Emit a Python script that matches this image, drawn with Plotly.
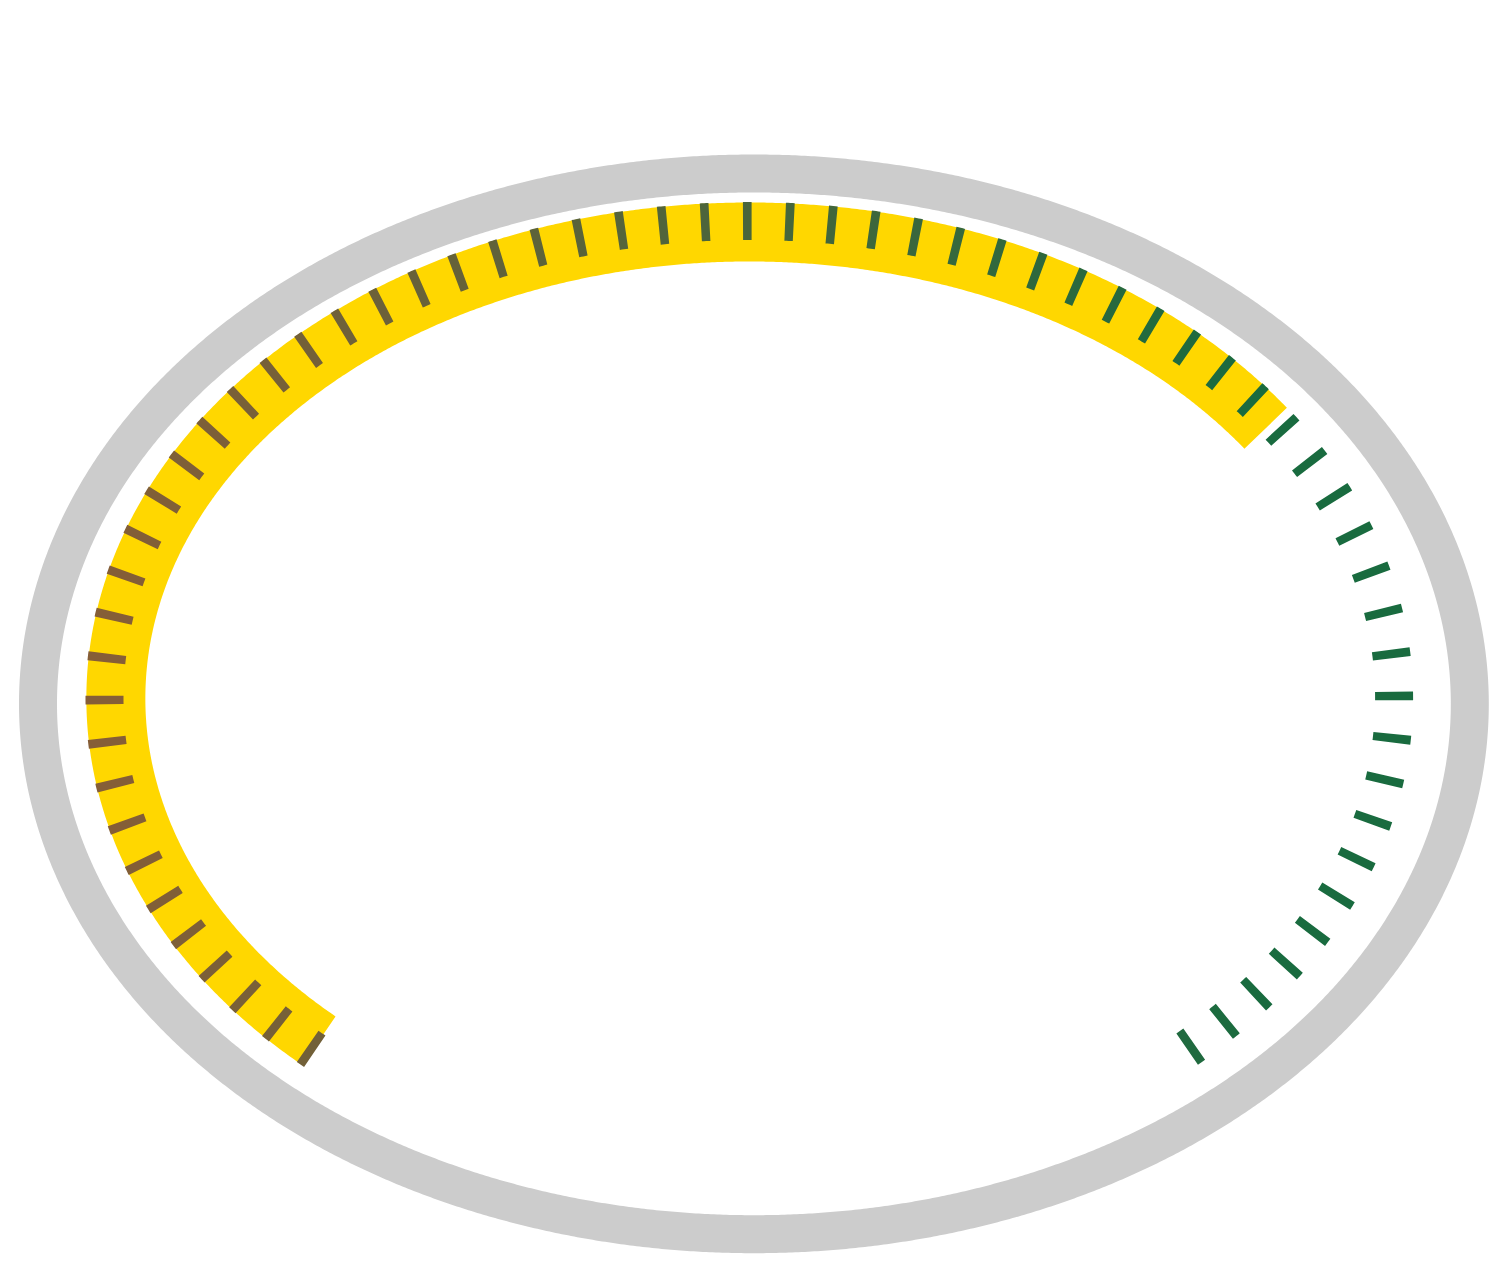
import numpy as np
import plotly.graph_objects as go

# ---------------- data ----------------
gauge_min = 0
gauge_max = 100
gauge_value = 70
tick_count = 63

# ---------------- style / geometry (page pixel space) ----------------
W, H = 1501, 1266
PAGE_OFF = 8                      # browser body margin
CX, CY = 749.3, 698.5             # gauge centre
START_DEG, END_DEG = 227.2, -46.8  # sweep of the gauge (parametric angle)

TRACK_C = (753.9, 703.85)
TRACK_R = (715.9, 530.35)
TRACK_W = 38
TRACK_COLOR = "#cccccc"

BAR_R = (633.45, 466.5)
BAR_W = 59
BAR_COLOR = "#FFD700"

TICK_R = (644.8, 477.5)
TICK_LEN = 38
TICK_THICK = 8.6
TICK_LEFT_RGB = (134, 94, 55)
TICK_RIGHT_RGB = (25, 107, 63)


def ellipse(rx, ry, deg, cx=CX, cy=CY):
    t = np.radians(deg)
    return cx + rx * np.cos(t), cy - ry * np.sin(t)


def ellipse_offset(rx, ry, deg, off, cx=CX, cy=CY):
    t = np.radians(deg)
    x, y = cx + rx * np.cos(t), cy - ry * np.sin(t)
    nx, ny = ry * np.cos(t), -rx * np.sin(t)
    n = np.hypot(nx, ny)
    return x + off * nx / n, y + off * ny / n


fig = go.Figure()

# background track as a filled ring (no seam)
th = np.linspace(0, 360, 1441)
ox, oy = ellipse_offset(TRACK_R[0], TRACK_R[1], th, TRACK_W / 2, *TRACK_C)
ix, iy = ellipse_offset(TRACK_R[0], TRACK_R[1], th[::-1], -TRACK_W / 2, *TRACK_C)
fig.add_trace(go.Scatter(x=np.concatenate([ox, [None], ix]),
                         y=np.concatenate([oy, [None], iy]),
                         mode="lines", fill="toself", fillcolor=TRACK_COLOR,
                         line=dict(width=0, color=TRACK_COLOR, simplify=False),
                         connectgaps=False, hoverinfo="skip"))

# value bar
frac = (gauge_value - gauge_min) / (gauge_max - gauge_min)
val_deg = START_DEG - frac * (START_DEG - END_DEG)
th = np.linspace(START_DEG, val_deg, 800)
bx, by = ellipse(BAR_R[0], BAR_R[1], th)
fig.add_trace(go.Scatter(x=bx, y=by, mode="lines",
                         line=dict(color=BAR_COLOR, width=BAR_W, simplify=False),
                         hoverinfo="skip"))

# ticks: evenly spaced by arc length along the tick ellipse
dense = np.linspace(START_DEG + 3, END_DEG - 3, 40001)
dx, dy = ellipse(TICK_R[0], TICK_R[1], dense)
seg = np.hypot(np.diff(dx), np.diff(dy))
s = np.concatenate([[0], np.cumsum(seg)])
s0 = np.interp(START_DEG, dense[::-1], s[::-1])
s1 = np.interp(END_DEG, dense[::-1], s[::-1])
centers = np.linspace(s0, s1, tick_count)

x_lo, x_hi = 104.0, 1260.0
for c in centers:
    ss = np.linspace(c - TICK_THICK / 2, c + TICK_THICK / 2, 5)
    px = np.interp(ss, s, dx)
    py = np.interp(ss, s, dy)
    t = float(np.clip((px.mean() - x_lo) / (x_hi - x_lo), 0, 1))
    rgb = [round(a + (b - a) * t) for a, b in zip(TICK_LEFT_RGB, TICK_RIGHT_RGB)]
    fig.add_trace(go.Scatter(x=px, y=py, mode="lines",
                             line=dict(color="rgb(%d,%d,%d)" % tuple(rgb),
                                       width=TICK_LEN, simplify=False),
                             hoverinfo="skip"))

fig.update_layout(
    width=W, height=H,
    margin=dict(l=0, r=0, t=0, b=0),
    paper_bgcolor="white", plot_bgcolor="white",
    showlegend=False,
    xaxis=dict(range=[PAGE_OFF, W + PAGE_OFF], visible=False, fixedrange=True),
    yaxis=dict(range=[H + PAGE_OFF, PAGE_OFF], visible=False, fixedrange=True),
)

fig.write_html("out.html")
